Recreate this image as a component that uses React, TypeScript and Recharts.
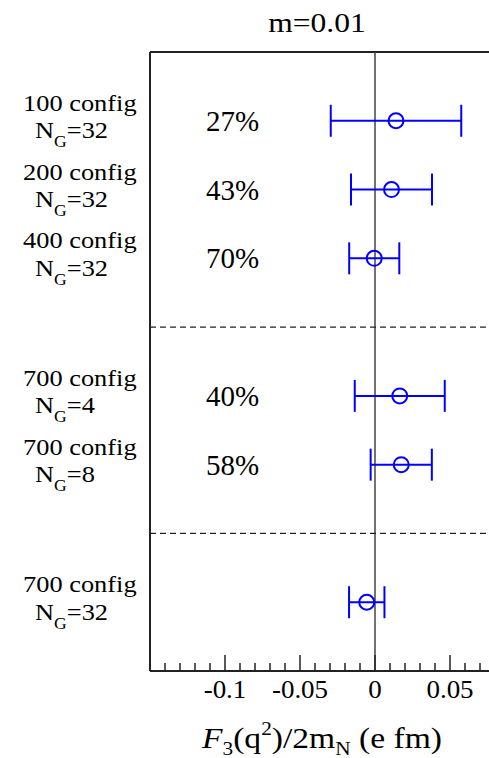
import { ScatterChart, Scatter, XAxis, YAxis, ErrorBar, ReferenceLine } from "recharts";

// one row per ensemble, top to bottom
const CONFIGS = ["100 config", "200 config", "400 config", "700 config", "700 config", "700 config"];
const GAUGE_N = ["32", "32", "32", "4", "8", "32"];
const ROW_Y = [1, 2, 3, 5, 6, 8];
const F3_VALUES = [0.014, 0.011, -0.0005, 0.0165, 0.0175, -0.0055];
const F3_ERRORS = [0.0435, 0.027, 0.0167, 0.03, 0.0204, 0.0118];
const PERCENTS = ["27%", "43%", "70%", "40%", "58%", ""];
const GROUP_SPLITS = [4, 7];

const X_TICKS = [
  -0.14, -0.13, -0.12, -0.11, -0.1, -0.09, -0.08, -0.07, -0.06, -0.05, -0.04, -0.03,
  -0.02, -0.01, 0, 0.01, 0.02, 0.03, 0.04, 0.05, 0.06, 0.07, 0.08, 0.09,
];
const X_TICK_LABELS = ["-0.1", "-0.05", "0", "0.05"];

const FONT = '"Liberation Serif", "Times New Roman", serif';
const BLUE = "#0000ff";
const INK = "#222";
const PCT_X = -0.095;

const points = ROW_Y.map((y, i) => ({ x: F3_VALUES[i], y, err: F3_ERRORS[i] }));
const pctPoints = ROW_Y.map((y, i) => ({ x: PCT_X, y, pct: PERCENTS[i] })).filter((p) => p.pct);

const XTick = ({ x, y, payload }: any) => {
  const label = X_TICK_LABELS.find((l) => Number(l) === payload.value);
  return (
    <g>
      <line x1={x} x2={x} y1={y} y2={y - (label ? 16 : 8)} stroke={INK} strokeWidth={1.5} />
      {label && (
        <text
          transform={`translate(${x}, ${y + 27}) scale(1.08, 1)`}
          textAnchor="middle"
          fontFamily={FONT}
          fontSize={25}
          fill="#000"
        >
          {label}
        </text>
      )}
    </g>
  );
};

const RowLabel = ({ y, payload }: any) => {
  const i = ROW_Y.indexOf(payload.value);
  if (i < 0) return null;
  return (
    <g fontFamily={FONT} fill="#000">
      <text transform={`translate(23, ${y - 10}) scale(1.1, 1)`} fontSize={24}>
        {CONFIGS[i]}
      </text>
      <text transform={`translate(35, ${y + 17.5}) scale(1.1, 1)`} fontSize={24}>
        N
        <tspan fontSize={16} dy={9}>
          G
        </tspan>
        <tspan dy={-9}>{"=" + GAUGE_N[i]}</tspan>
      </text>
    </g>
  );
};

const Marker = ({ cx, cy }: any) => (
  <circle cx={cx} cy={cy} r={7.5} fill="none" stroke={BLUE} strokeWidth={2} />
);

const PctLabel = ({ cx, cy, payload }: any) => (
  <text x={cx} y={cy + 10} textAnchor="middle" fontFamily={FONT} fontSize={29} fill="#000">
    {payload.pct}
  </text>
);

export default function App() {
  return (
    <div
      style={{
        position: "absolute",
        left: 0,
        top: 0,
        width: 489,
        height: 758,
        overflow: "hidden",
        background: "#fff",
      }}
    >
      <svg width={489} height={50} style={{ position: "absolute", left: 0, top: 0 }}>
        <text
          transform="translate(317, 32) scale(1.17, 1)"
          textAnchor="middle"
          fontFamily={FONT}
          fontSize={27}
          fill="#000"
        >
          m=0.01
        </text>
      </svg>
      <ScatterChart
        width={560}
        height={758}
        margin={{ top: 52, right: 35, bottom: 27, left: 0 }}
      >
        <XAxis
          type="number"
          dataKey="x"
          domain={[-0.15, 0.1]}
          allowDataOverflow
          ticks={X_TICKS}
          interval={0}
          tick={<XTick />}
          tickLine={false}
          tickSize={0}
          tickMargin={0}
          height={60}
          axisLine={{ stroke: INK, strokeWidth: 2 }}
          label={(props: any) => {
            const vb = props.viewBox;
            return (
              <text
                transform={`translate(322, ${vb.y + 77}) scale(1.12, 1)`}
                textAnchor="middle"
                fontFamily={FONT}
                fontSize={30}
                fill="#000"
              >
                <tspan fontStyle="italic">F</tspan>
                <tspan fontSize={19} dy={7}>3</tspan>
                <tspan dy={-7}>(q</tspan>
                <tspan fontSize={19} dy={-13}>2</tspan>
                <tspan dy={13}>)/2m</tspan>
                <tspan fontSize={19} dy={7}>N</tspan>
                <tspan dy={-7}>{" (e fm)"}</tspan>
              </text>
            );
          }}
        />
        <YAxis
          type="number"
          dataKey="y"
          domain={[0, 9]}
          reversed
          width={150}
          ticks={ROW_Y}
          interval={0}
          tick={<RowLabel />}
          tickLine={false}
          axisLine={{ stroke: INK, strokeWidth: 2 }}
        />
        <ReferenceLine y={0} stroke={INK} strokeWidth={2} />
        <ReferenceLine x={0.1} stroke={INK} strokeWidth={2} />
        <ReferenceLine x={0} stroke="#444" strokeWidth={1.5} />
        {GROUP_SPLITS.map((s) => (
          <ReferenceLine key={s} y={s} stroke={INK} strokeWidth={1.3} strokeDasharray="6 4" />
        ))}
        <Scatter data={pctPoints} shape={<PctLabel />} isAnimationActive={false} />
        <Scatter data={points} shape={<Marker />} isAnimationActive={false}>
          <ErrorBar dataKey="err" direction="x" width={16} stroke={BLUE} strokeWidth={2} />
        </Scatter>
      </ScatterChart>
    </div>
  );
}
